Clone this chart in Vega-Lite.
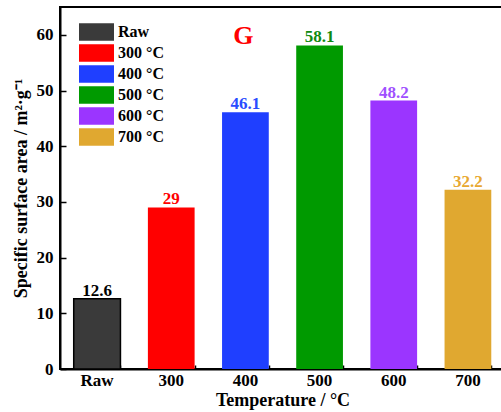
{
  "$schema": "https://vega.github.io/schema/vega-lite/v6.json",
  "width": 445,
  "height": 362,
  "autosize": {"type": "none"},
  "padding": {"left": 60, "top": 7, "right": 0, "bottom": 43},
  "background": "white",
  "config": {
    "font": "Liberation Serif",
    "view": {"stroke": "black", "strokeWidth": 2}
  },
  "resolve": {"scale": {"fill": "independent"}, "axis": {"x": "independent"}},
  "layer": [
    {
      "data": {"values": [
        {"cat": "Raw", "legend": "Raw", "v": 12.6},
        {"cat": "300", "legend": "300 °C", "v": 29},
        {"cat": "400", "legend": "400 °C", "v": 46.1},
        {"cat": "500", "legend": "500 °C", "v": 58.1},
        {"cat": "600", "legend": "600 °C", "v": 48.2},
        {"cat": "700", "legend": "700 °C", "v": 32.2}
      ]},
      "mark": {"type": "bar", "strokeWidth": 1.5},
      "encoding": {
        "x": {"field": "cat", "type": "nominal", "sort": null,
          "scale": {"paddingInner": 0.37, "paddingOuter": 0.185},
          "axis": {"orient": "bottom", "tickBand": "extent", "labels": false, "title": null,
            "domain": true, "domainWidth": 2, "domainColor": "black",
            "ticks": true, "tickSize": -4, "tickWidth": 1.5, "tickColor": "black", "grid": false}},
        "y": {"field": "v", "type": "quantitative",
          "scale": {"domain": [0, 65], "nice": false},
          "axis": {"title": "Specific surface area / m²·g⁻¹", "titleFontSize": 18, "titleFontWeight": "bold",
            "titleColor": "black", "titlePadding": 6,
            "values": [0, 5, 10, 15, 20, 25, 30, 35, 40, 45, 50, 55, 60, 65],
            "labelExpr": "datum.value % 10 === 0 ? datum.label : ''",
            "labelFontSize": 17, "labelFontWeight": "bold", "labelColor": "black", "labelPadding": 13,
            "tickSize": {"condition": {"test": "datum.value % 10 === 0", "value": -6}, "value": -3},
            "tickColor": "black", "tickWidth": 1.5, "domainColor": "black", "domainWidth": 2, "grid": false}},
        "fill": {"field": "legend", "type": "nominal", "sort": null,
          "scale": {"domain": ["Raw", "300 °C", "400 °C", "500 °C", "600 °C", "700 °C"],
            "range": ["#3a3a3a", "#ff0000", "#1f3fff", "#009a00", "#9b35ff", "#e0a830"]},
          "legend": {"orient": "none", "legendX": 19, "legendY": 16, "title": null, "padding": 0,
            "symbolType": "M-1,-0.5L1,-0.5L1,0.5L-1,0.5Z", "symbolSize": 1225,
            "symbolStrokeWidth": 0, "symbolOpacity": 1,
            "labelFontSize": 16, "labelFontWeight": "bold", "labelOffset": 4,
            "clipHeight": 18, "rowPadding": 3,
            "encode": {"labels": {"update": {"fill": {"signal": "datum.value === 'Raw' ? 'black' : datum.value === '300 °C' ? '#ff0000' : datum.value === '400 °C' ? '#2a4cff' : datum.value === '500 °C' ? '#108a10' : datum.value === '600 °C' ? '#a050ff' : '#e8a830'"}}}}}},
        "stroke": {"condition": {"test": "datum.cat === 'Raw'", "value": "black"}, "value": null}
      }
    },
    {
      "data": {"values": [
        {"cat": "Raw", "legend": "Raw", "v": 12.6},
        {"cat": "300", "legend": "300 °C", "v": 29},
        {"cat": "400", "legend": "400 °C", "v": 46.1},
        {"cat": "500", "legend": "500 °C", "v": 58.1},
        {"cat": "600", "legend": "600 °C", "v": 48.2},
        {"cat": "700", "legend": "700 °C", "v": 32.2}
      ]},
      "mark": {"type": "text", "baseline": "alphabetic", "dy": -3, "fontSize": 17, "fontWeight": "bold"},
      "encoding": {
        "x": {"field": "cat", "type": "nominal", "sort": null,
          "axis": {"orient": "bottom", "labels": true, "labelFontSize": 17, "labelFontWeight": "bold",
            "labelColor": "black", "labelPadding": 10, "labelAngle": 0,
            "tickSize": -7, "tickWidth": 1.5, "tickColor": "black", "domain": false, "grid": false,
            "title": "Temperature / °C", "titleFontSize": 18, "titleFontWeight": "bold", "titleColor": "black",
            "titlePadding": 3}},
        "y": {"field": "v", "type": "quantitative"},
        "text": {"field": "v", "type": "quantitative"},
        "fill": {"field": "legend", "type": "nominal", "sort": null,
          "scale": {"domain": ["Raw", "300 °C", "400 °C", "500 °C", "600 °C", "700 °C"],
            "range": ["#000000", "#ff0000", "#2a4cff", "#108a10", "#a050ff", "#e8a830"]},
          "legend": null}
      }
    },
    {
      "data": {"values": [{"t": "G"}]},
      "mark": {"type": "text", "baseline": "alphabetic", "fontSize": 26, "fontWeight": "bold", "fill": "#ff0000", "dx": -2},
      "encoding": {
        "x": {"datum": "400", "type": "nominal", "axis": null},
        "y": {"datum": 58.4, "type": "quantitative"},
        "text": {"field": "t"}
      }
    }
  ]
}
